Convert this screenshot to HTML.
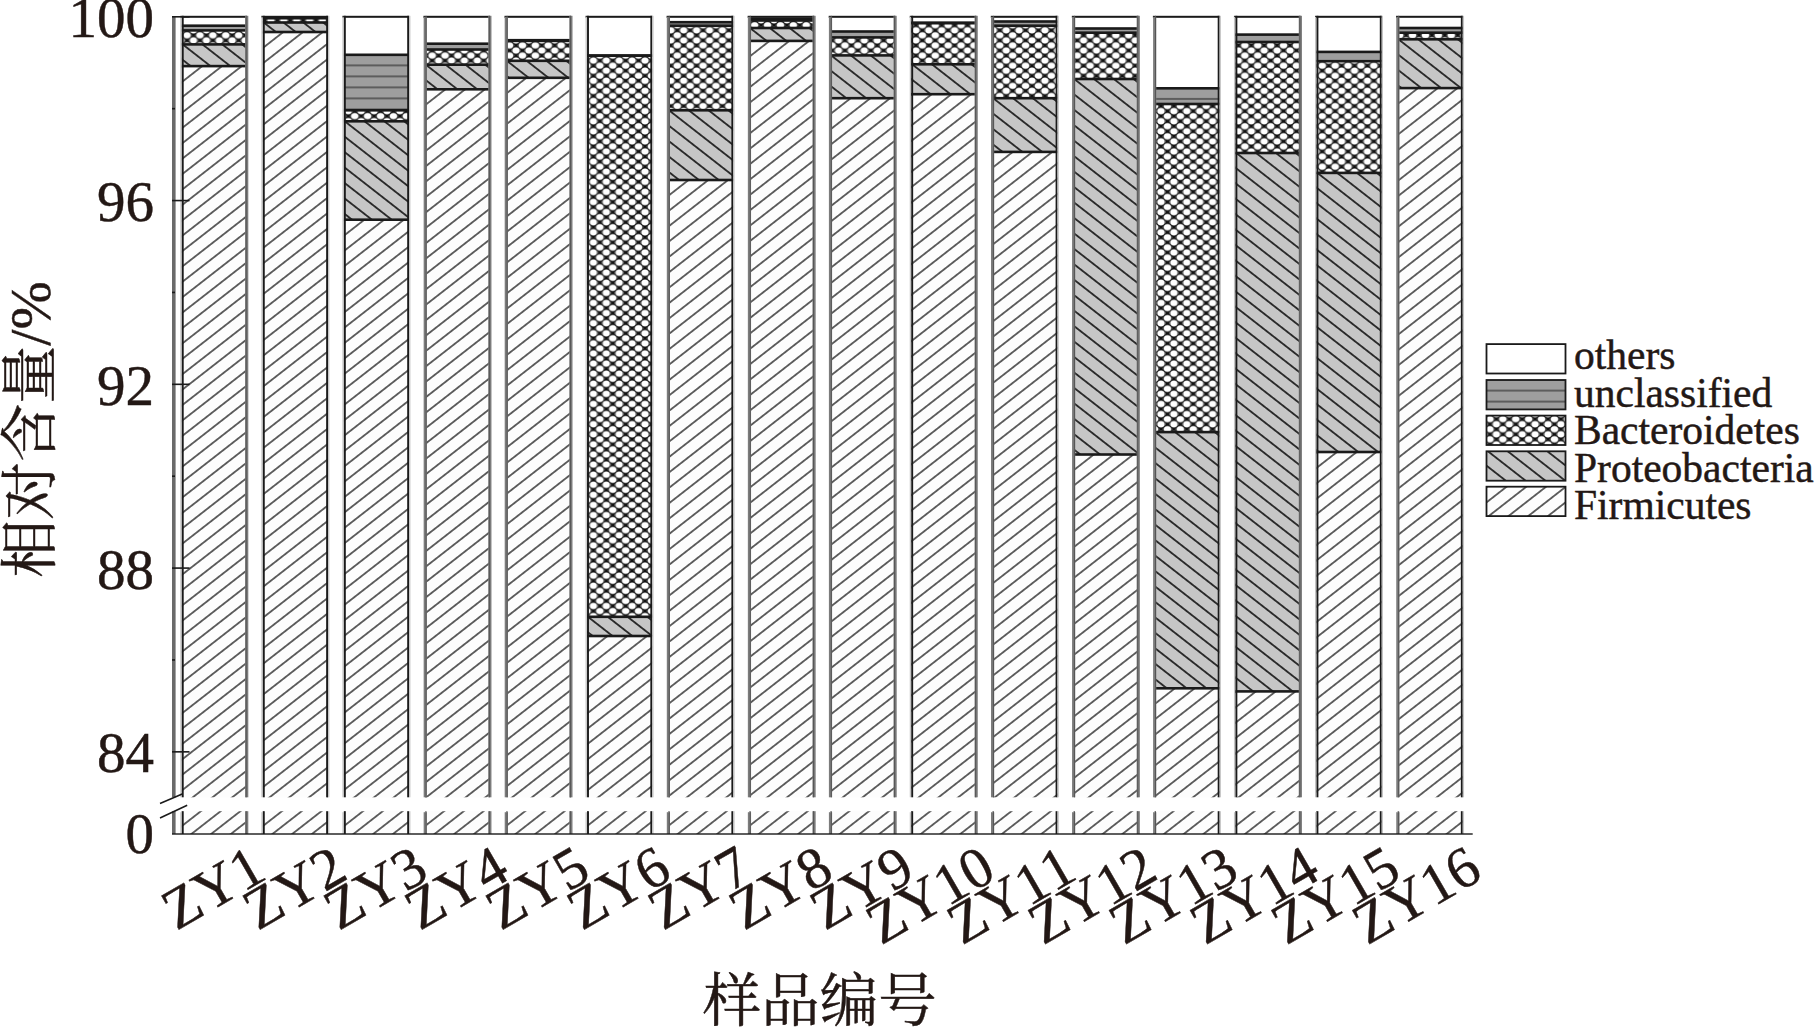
<!DOCTYPE html>
<html lang="zh"><head><meta charset="utf-8"><title>chart</title>
<style>
html,body{margin:0;padding:0;background:#fff;}
body{width:1814px;height:1027px;overflow:hidden;}
svg{display:block;}
text{font-kerning:none;font-feature-settings:"kern" 0;}
.t{font-family:"Liberation Serif","Noto Serif CJK SC",serif;fill:#231815;stroke:#231815;stroke-width:0.45px;}
</style></head><body>
<svg width="1814" height="1027" viewBox="0 0 1814 1027">
<defs>
<pattern id="bact" width="12.9" height="10.1" patternUnits="userSpaceOnUse">
<rect width="12.9" height="10.1" fill="#606060"/>
<path d="M19.35,-10.1 L-6.45,10.1 M32.25,-10.1 L6.45,10.1 M25.8,-5.05 L-12.9,25.25 M-6.45,-10.1 L19.35,10.1 M-19.35,-10.1 L6.45,10.1 M0,-5.05 L25.8,15.15 M-12.9,-5.05 L12.9,15.15" stroke="#1c1c1c" stroke-width="1.1" fill="none"/>
<g fill="#fff"><ellipse cx="0" cy="0" rx="3.5" ry="3.0"/><ellipse cx="12.9" cy="0" rx="3.5" ry="3.0"/><ellipse cx="0" cy="10.1" rx="3.5" ry="3.0"/><ellipse cx="12.9" cy="10.1" rx="3.5" ry="3.0"/><ellipse cx="6.45" cy="5.05" rx="3.5" ry="3.0"/></g>
<g fill="#111"><rect x="5.05" y="-1.4" width="2.8" height="2.8"/><rect x="5.05" y="8.7" width="2.8" height="2.8"/><rect x="-1.4" y="3.65" width="2.8" height="2.8"/><rect x="11.5" y="3.65" width="2.8" height="2.8"/></g>
</pattern>
<pattern id="u1" width="24" height="11" patternUnits="userSpaceOnUse" patternTransform="translate(183.70 25.30)"><rect width="24" height="11" fill="#9e9e9e"/><rect y="-0.9" width="24" height="1.8" fill="#555"/><rect y="10.1" width="24" height="1.8" fill="#555"/></pattern>
<pattern id="p3" width="24" height="12.182" patternUnits="userSpaceOnUse" patternTransform="translate(183.70 45.20) rotate(37.954)"><rect width="24" height="12.182" fill="#c6c6c6"/><rect y="-0.85" width="24" height="1.7" fill="#1a1a1a"/><rect y="11.332" width="24" height="1.7" fill="#1a1a1a"/></pattern>
<pattern id="f4" width="24" height="12.143" patternUnits="userSpaceOnUse" patternTransform="translate(183.70 65.20) rotate(-37.954)"><rect width="24" height="12.143" fill="#fdfdfd"/><rect y="-0.7" width="24" height="1.4" fill="#262626"/><rect y="11.443" width="24" height="1.4" fill="#262626"/></pattern>
<pattern id="f5" width="24" height="12.143" patternUnits="userSpaceOnUse" patternTransform="translate(183.70 809.20) rotate(-37.954)"><rect width="24" height="12.143" fill="#fdfdfd"/><rect y="-0.7" width="24" height="1.4" fill="#262626"/><rect y="11.443" width="24" height="1.4" fill="#262626"/></pattern>
<pattern id="u6" width="24" height="11" patternUnits="userSpaceOnUse" patternTransform="translate(264.75 16.90)"><rect width="24" height="11" fill="#9e9e9e"/><rect y="-0.9" width="24" height="1.8" fill="#555"/><rect y="10.1" width="24" height="1.8" fill="#555"/></pattern>
<pattern id="p8" width="24" height="12.182" patternUnits="userSpaceOnUse" patternTransform="translate(264.75 23.30) rotate(37.954)"><rect width="24" height="12.182" fill="#c6c6c6"/><rect y="-0.85" width="24" height="1.7" fill="#1a1a1a"/><rect y="11.332" width="24" height="1.7" fill="#1a1a1a"/></pattern>
<pattern id="f9" width="24" height="12.143" patternUnits="userSpaceOnUse" patternTransform="translate(264.75 31.10) rotate(-37.954)"><rect width="24" height="12.143" fill="#fdfdfd"/><rect y="-0.7" width="24" height="1.4" fill="#262626"/><rect y="11.443" width="24" height="1.4" fill="#262626"/></pattern>
<pattern id="f10" width="24" height="12.143" patternUnits="userSpaceOnUse" patternTransform="translate(264.75 809.20) rotate(-37.954)"><rect width="24" height="12.143" fill="#fdfdfd"/><rect y="-0.7" width="24" height="1.4" fill="#262626"/><rect y="11.443" width="24" height="1.4" fill="#262626"/></pattern>
<pattern id="u11" width="24" height="11" patternUnits="userSpaceOnUse" patternTransform="translate(345.80 54.40)"><rect width="24" height="11" fill="#9e9e9e"/><rect y="-0.9" width="24" height="1.8" fill="#555"/><rect y="10.1" width="24" height="1.8" fill="#555"/></pattern>
<pattern id="p13" width="24" height="12.182" patternUnits="userSpaceOnUse" patternTransform="translate(345.80 122.10) rotate(37.954)"><rect width="24" height="12.182" fill="#c6c6c6"/><rect y="-0.85" width="24" height="1.7" fill="#1a1a1a"/><rect y="11.332" width="24" height="1.7" fill="#1a1a1a"/></pattern>
<pattern id="f14" width="24" height="12.143" patternUnits="userSpaceOnUse" patternTransform="translate(345.80 218.80) rotate(-37.954)"><rect width="24" height="12.143" fill="#fdfdfd"/><rect y="-0.7" width="24" height="1.4" fill="#262626"/><rect y="11.443" width="24" height="1.4" fill="#262626"/></pattern>
<pattern id="f15" width="24" height="12.143" patternUnits="userSpaceOnUse" patternTransform="translate(345.80 809.20) rotate(-37.954)"><rect width="24" height="12.143" fill="#fdfdfd"/><rect y="-0.7" width="24" height="1.4" fill="#262626"/><rect y="11.443" width="24" height="1.4" fill="#262626"/></pattern>
<pattern id="u16" width="24" height="11" patternUnits="userSpaceOnUse" patternTransform="translate(426.85 43.30)"><rect width="24" height="11" fill="#9e9e9e"/><rect y="-0.9" width="24" height="1.8" fill="#555"/><rect y="10.1" width="24" height="1.8" fill="#555"/></pattern>
<pattern id="p18" width="24" height="12.182" patternUnits="userSpaceOnUse" patternTransform="translate(426.85 65.50) rotate(37.954)"><rect width="24" height="12.182" fill="#c6c6c6"/><rect y="-0.85" width="24" height="1.7" fill="#1a1a1a"/><rect y="11.332" width="24" height="1.7" fill="#1a1a1a"/></pattern>
<pattern id="f19" width="24" height="12.143" patternUnits="userSpaceOnUse" patternTransform="translate(426.85 88.40) rotate(-37.954)"><rect width="24" height="12.143" fill="#fdfdfd"/><rect y="-0.7" width="24" height="1.4" fill="#262626"/><rect y="11.443" width="24" height="1.4" fill="#262626"/></pattern>
<pattern id="f20" width="24" height="12.143" patternUnits="userSpaceOnUse" patternTransform="translate(426.85 809.20) rotate(-37.954)"><rect width="24" height="12.143" fill="#fdfdfd"/><rect y="-0.7" width="24" height="1.4" fill="#262626"/><rect y="11.443" width="24" height="1.4" fill="#262626"/></pattern>
<pattern id="u21" width="24" height="11" patternUnits="userSpaceOnUse" patternTransform="translate(507.90 39.80)"><rect width="24" height="11" fill="#9e9e9e"/><rect y="-0.9" width="24" height="1.8" fill="#555"/><rect y="10.1" width="24" height="1.8" fill="#555"/></pattern>
<pattern id="p23" width="24" height="12.182" patternUnits="userSpaceOnUse" patternTransform="translate(507.90 61.60) rotate(37.954)"><rect width="24" height="12.182" fill="#c6c6c6"/><rect y="-0.85" width="24" height="1.7" fill="#1a1a1a"/><rect y="11.332" width="24" height="1.7" fill="#1a1a1a"/></pattern>
<pattern id="f24" width="24" height="12.143" patternUnits="userSpaceOnUse" patternTransform="translate(507.90 76.90) rotate(-37.954)"><rect width="24" height="12.143" fill="#fdfdfd"/><rect y="-0.7" width="24" height="1.4" fill="#262626"/><rect y="11.443" width="24" height="1.4" fill="#262626"/></pattern>
<pattern id="f25" width="24" height="12.143" patternUnits="userSpaceOnUse" patternTransform="translate(507.90 809.20) rotate(-37.954)"><rect width="24" height="12.143" fill="#fdfdfd"/><rect y="-0.7" width="24" height="1.4" fill="#262626"/><rect y="11.443" width="24" height="1.4" fill="#262626"/></pattern>
<pattern id="p27" width="24" height="12.182" patternUnits="userSpaceOnUse" patternTransform="translate(588.95 617.60) rotate(37.954)"><rect width="24" height="12.182" fill="#c6c6c6"/><rect y="-0.85" width="24" height="1.7" fill="#1a1a1a"/><rect y="11.332" width="24" height="1.7" fill="#1a1a1a"/></pattern>
<pattern id="f28" width="24" height="12.143" patternUnits="userSpaceOnUse" patternTransform="translate(588.95 635.10) rotate(-37.954)"><rect width="24" height="12.143" fill="#fdfdfd"/><rect y="-0.7" width="24" height="1.4" fill="#262626"/><rect y="11.443" width="24" height="1.4" fill="#262626"/></pattern>
<pattern id="f29" width="24" height="12.143" patternUnits="userSpaceOnUse" patternTransform="translate(588.95 809.20) rotate(-37.954)"><rect width="24" height="12.143" fill="#fdfdfd"/><rect y="-0.7" width="24" height="1.4" fill="#262626"/><rect y="11.443" width="24" height="1.4" fill="#262626"/></pattern>
<pattern id="u30" width="24" height="11" patternUnits="userSpaceOnUse" patternTransform="translate(670.00 21.80)"><rect width="24" height="11" fill="#9e9e9e"/><rect y="-0.9" width="24" height="1.8" fill="#555"/><rect y="10.1" width="24" height="1.8" fill="#555"/></pattern>
<pattern id="p32" width="24" height="12.182" patternUnits="userSpaceOnUse" patternTransform="translate(670.00 111.10) rotate(37.954)"><rect width="24" height="12.182" fill="#c6c6c6"/><rect y="-0.85" width="24" height="1.7" fill="#1a1a1a"/><rect y="11.332" width="24" height="1.7" fill="#1a1a1a"/></pattern>
<pattern id="f33" width="24" height="12.143" patternUnits="userSpaceOnUse" patternTransform="translate(670.00 179.10) rotate(-37.954)"><rect width="24" height="12.143" fill="#fdfdfd"/><rect y="-0.7" width="24" height="1.4" fill="#262626"/><rect y="11.443" width="24" height="1.4" fill="#262626"/></pattern>
<pattern id="f34" width="24" height="12.143" patternUnits="userSpaceOnUse" patternTransform="translate(670.00 809.20) rotate(-37.954)"><rect width="24" height="12.143" fill="#fdfdfd"/><rect y="-0.7" width="24" height="1.4" fill="#262626"/><rect y="11.443" width="24" height="1.4" fill="#262626"/></pattern>
<pattern id="u35" width="24" height="11" patternUnits="userSpaceOnUse" patternTransform="translate(751.05 18.30)"><rect width="24" height="11" fill="#9e9e9e"/><rect y="-0.9" width="24" height="1.8" fill="#555"/><rect y="10.1" width="24" height="1.8" fill="#555"/></pattern>
<pattern id="p37" width="24" height="12.182" patternUnits="userSpaceOnUse" patternTransform="translate(751.05 28.80) rotate(37.954)"><rect width="24" height="12.182" fill="#c6c6c6"/><rect y="-0.85" width="24" height="1.7" fill="#1a1a1a"/><rect y="11.332" width="24" height="1.7" fill="#1a1a1a"/></pattern>
<pattern id="f38" width="24" height="12.143" patternUnits="userSpaceOnUse" patternTransform="translate(751.05 40.00) rotate(-37.954)"><rect width="24" height="12.143" fill="#fdfdfd"/><rect y="-0.7" width="24" height="1.4" fill="#262626"/><rect y="11.443" width="24" height="1.4" fill="#262626"/></pattern>
<pattern id="f39" width="24" height="12.143" patternUnits="userSpaceOnUse" patternTransform="translate(751.05 809.20) rotate(-37.954)"><rect width="24" height="12.143" fill="#fdfdfd"/><rect y="-0.7" width="24" height="1.4" fill="#262626"/><rect y="11.443" width="24" height="1.4" fill="#262626"/></pattern>
<pattern id="u40" width="24" height="11" patternUnits="userSpaceOnUse" patternTransform="translate(832.10 31.10)"><rect width="24" height="11" fill="#9e9e9e"/><rect y="-0.9" width="24" height="1.8" fill="#555"/><rect y="10.1" width="24" height="1.8" fill="#555"/></pattern>
<pattern id="p42" width="24" height="12.182" patternUnits="userSpaceOnUse" patternTransform="translate(832.10 56.20) rotate(37.954)"><rect width="24" height="12.182" fill="#c6c6c6"/><rect y="-0.85" width="24" height="1.7" fill="#1a1a1a"/><rect y="11.332" width="24" height="1.7" fill="#1a1a1a"/></pattern>
<pattern id="f43" width="24" height="12.143" patternUnits="userSpaceOnUse" patternTransform="translate(832.10 97.30) rotate(-37.954)"><rect width="24" height="12.143" fill="#fdfdfd"/><rect y="-0.7" width="24" height="1.4" fill="#262626"/><rect y="11.443" width="24" height="1.4" fill="#262626"/></pattern>
<pattern id="f44" width="24" height="12.143" patternUnits="userSpaceOnUse" patternTransform="translate(832.10 809.20) rotate(-37.954)"><rect width="24" height="12.143" fill="#fdfdfd"/><rect y="-0.7" width="24" height="1.4" fill="#262626"/><rect y="11.443" width="24" height="1.4" fill="#262626"/></pattern>
<pattern id="u45" width="24" height="11" patternUnits="userSpaceOnUse" patternTransform="translate(913.15 22.30)"><rect width="24" height="11" fill="#9e9e9e"/><rect y="-0.9" width="24" height="1.8" fill="#555"/><rect y="10.1" width="24" height="1.8" fill="#555"/></pattern>
<pattern id="p47" width="24" height="12.182" patternUnits="userSpaceOnUse" patternTransform="translate(913.15 65.10) rotate(37.954)"><rect width="24" height="12.182" fill="#c6c6c6"/><rect y="-0.85" width="24" height="1.7" fill="#1a1a1a"/><rect y="11.332" width="24" height="1.7" fill="#1a1a1a"/></pattern>
<pattern id="f48" width="24" height="12.143" patternUnits="userSpaceOnUse" patternTransform="translate(913.15 93.30) rotate(-37.954)"><rect width="24" height="12.143" fill="#fdfdfd"/><rect y="-0.7" width="24" height="1.4" fill="#262626"/><rect y="11.443" width="24" height="1.4" fill="#262626"/></pattern>
<pattern id="f49" width="24" height="12.143" patternUnits="userSpaceOnUse" patternTransform="translate(913.15 809.20) rotate(-37.954)"><rect width="24" height="12.143" fill="#fdfdfd"/><rect y="-0.7" width="24" height="1.4" fill="#262626"/><rect y="11.443" width="24" height="1.4" fill="#262626"/></pattern>
<pattern id="u50" width="24" height="11" patternUnits="userSpaceOnUse" patternTransform="translate(994.20 21.10)"><rect width="24" height="11" fill="#9e9e9e"/><rect y="-0.9" width="24" height="1.8" fill="#555"/><rect y="10.1" width="24" height="1.8" fill="#555"/></pattern>
<pattern id="p52" width="24" height="12.182" patternUnits="userSpaceOnUse" patternTransform="translate(994.20 99.00) rotate(37.954)"><rect width="24" height="12.182" fill="#c6c6c6"/><rect y="-0.85" width="24" height="1.7" fill="#1a1a1a"/><rect y="11.332" width="24" height="1.7" fill="#1a1a1a"/></pattern>
<pattern id="f53" width="24" height="12.143" patternUnits="userSpaceOnUse" patternTransform="translate(994.20 151.00) rotate(-37.954)"><rect width="24" height="12.143" fill="#fdfdfd"/><rect y="-0.7" width="24" height="1.4" fill="#262626"/><rect y="11.443" width="24" height="1.4" fill="#262626"/></pattern>
<pattern id="f54" width="24" height="12.143" patternUnits="userSpaceOnUse" patternTransform="translate(994.20 809.20) rotate(-37.954)"><rect width="24" height="12.143" fill="#fdfdfd"/><rect y="-0.7" width="24" height="1.4" fill="#262626"/><rect y="11.443" width="24" height="1.4" fill="#262626"/></pattern>
<pattern id="u55" width="24" height="11" patternUnits="userSpaceOnUse" patternTransform="translate(1075.25 28.10)"><rect width="24" height="11" fill="#9e9e9e"/><rect y="-0.9" width="24" height="1.8" fill="#555"/><rect y="10.1" width="24" height="1.8" fill="#555"/></pattern>
<pattern id="p57" width="24" height="12.182" patternUnits="userSpaceOnUse" patternTransform="translate(1075.25 79.80) rotate(37.954)"><rect width="24" height="12.182" fill="#c6c6c6"/><rect y="-0.85" width="24" height="1.7" fill="#1a1a1a"/><rect y="11.332" width="24" height="1.7" fill="#1a1a1a"/></pattern>
<pattern id="f58" width="24" height="12.143" patternUnits="userSpaceOnUse" patternTransform="translate(1075.25 453.60) rotate(-37.954)"><rect width="24" height="12.143" fill="#fdfdfd"/><rect y="-0.7" width="24" height="1.4" fill="#262626"/><rect y="11.443" width="24" height="1.4" fill="#262626"/></pattern>
<pattern id="f59" width="24" height="12.143" patternUnits="userSpaceOnUse" patternTransform="translate(1075.25 809.20) rotate(-37.954)"><rect width="24" height="12.143" fill="#fdfdfd"/><rect y="-0.7" width="24" height="1.4" fill="#262626"/><rect y="11.443" width="24" height="1.4" fill="#262626"/></pattern>
<pattern id="u60" width="24" height="11" patternUnits="userSpaceOnUse" patternTransform="translate(1156.30 87.90)"><rect width="24" height="11" fill="#9e9e9e"/><rect y="-0.9" width="24" height="1.8" fill="#555"/><rect y="10.1" width="24" height="1.8" fill="#555"/></pattern>
<pattern id="p62" width="24" height="12.182" patternUnits="userSpaceOnUse" patternTransform="translate(1156.30 432.90) rotate(37.954)"><rect width="24" height="12.182" fill="#c6c6c6"/><rect y="-0.85" width="24" height="1.7" fill="#1a1a1a"/><rect y="11.332" width="24" height="1.7" fill="#1a1a1a"/></pattern>
<pattern id="f63" width="24" height="12.143" patternUnits="userSpaceOnUse" patternTransform="translate(1156.30 687.40) rotate(-37.954)"><rect width="24" height="12.143" fill="#fdfdfd"/><rect y="-0.7" width="24" height="1.4" fill="#262626"/><rect y="11.443" width="24" height="1.4" fill="#262626"/></pattern>
<pattern id="f64" width="24" height="12.143" patternUnits="userSpaceOnUse" patternTransform="translate(1156.30 809.20) rotate(-37.954)"><rect width="24" height="12.143" fill="#fdfdfd"/><rect y="-0.7" width="24" height="1.4" fill="#262626"/><rect y="11.443" width="24" height="1.4" fill="#262626"/></pattern>
<pattern id="u65" width="24" height="11" patternUnits="userSpaceOnUse" patternTransform="translate(1237.35 34.20)"><rect width="24" height="11" fill="#9e9e9e"/><rect y="-0.9" width="24" height="1.8" fill="#555"/><rect y="10.1" width="24" height="1.8" fill="#555"/></pattern>
<pattern id="p67" width="24" height="12.182" patternUnits="userSpaceOnUse" patternTransform="translate(1237.35 153.80) rotate(37.954)"><rect width="24" height="12.182" fill="#c6c6c6"/><rect y="-0.85" width="24" height="1.7" fill="#1a1a1a"/><rect y="11.332" width="24" height="1.7" fill="#1a1a1a"/></pattern>
<pattern id="f68" width="24" height="12.143" patternUnits="userSpaceOnUse" patternTransform="translate(1237.35 690.50) rotate(-37.954)"><rect width="24" height="12.143" fill="#fdfdfd"/><rect y="-0.7" width="24" height="1.4" fill="#262626"/><rect y="11.443" width="24" height="1.4" fill="#262626"/></pattern>
<pattern id="f69" width="24" height="12.143" patternUnits="userSpaceOnUse" patternTransform="translate(1237.35 809.20) rotate(-37.954)"><rect width="24" height="12.143" fill="#fdfdfd"/><rect y="-0.7" width="24" height="1.4" fill="#262626"/><rect y="11.443" width="24" height="1.4" fill="#262626"/></pattern>
<pattern id="u70" width="24" height="11" patternUnits="userSpaceOnUse" patternTransform="translate(1318.40 51.50)"><rect width="24" height="11" fill="#9e9e9e"/><rect y="-0.9" width="24" height="1.8" fill="#555"/><rect y="10.1" width="24" height="1.8" fill="#555"/></pattern>
<pattern id="p72" width="24" height="12.182" patternUnits="userSpaceOnUse" patternTransform="translate(1318.40 173.70) rotate(37.954)"><rect width="24" height="12.182" fill="#c6c6c6"/><rect y="-0.85" width="24" height="1.7" fill="#1a1a1a"/><rect y="11.332" width="24" height="1.7" fill="#1a1a1a"/></pattern>
<pattern id="f73" width="24" height="12.143" patternUnits="userSpaceOnUse" patternTransform="translate(1318.40 451.10) rotate(-37.954)"><rect width="24" height="12.143" fill="#fdfdfd"/><rect y="-0.7" width="24" height="1.4" fill="#262626"/><rect y="11.443" width="24" height="1.4" fill="#262626"/></pattern>
<pattern id="f74" width="24" height="12.143" patternUnits="userSpaceOnUse" patternTransform="translate(1318.40 809.20) rotate(-37.954)"><rect width="24" height="12.143" fill="#fdfdfd"/><rect y="-0.7" width="24" height="1.4" fill="#262626"/><rect y="11.443" width="24" height="1.4" fill="#262626"/></pattern>
<pattern id="u75" width="24" height="11" patternUnits="userSpaceOnUse" patternTransform="translate(1399.45 27.60)"><rect width="24" height="11" fill="#9e9e9e"/><rect y="-0.9" width="24" height="1.8" fill="#555"/><rect y="10.1" width="24" height="1.8" fill="#555"/></pattern>
<pattern id="p77" width="24" height="12.182" patternUnits="userSpaceOnUse" patternTransform="translate(1399.45 40.10) rotate(37.954)"><rect width="24" height="12.182" fill="#c6c6c6"/><rect y="-0.85" width="24" height="1.7" fill="#1a1a1a"/><rect y="11.332" width="24" height="1.7" fill="#1a1a1a"/></pattern>
<pattern id="f78" width="24" height="12.143" patternUnits="userSpaceOnUse" patternTransform="translate(1399.45 87.20) rotate(-37.954)"><rect width="24" height="12.143" fill="#fdfdfd"/><rect y="-0.7" width="24" height="1.4" fill="#262626"/><rect y="11.443" width="24" height="1.4" fill="#262626"/></pattern>
<pattern id="f79" width="24" height="12.143" patternUnits="userSpaceOnUse" patternTransform="translate(1399.45 809.20) rotate(-37.954)"><rect width="24" height="12.143" fill="#fdfdfd"/><rect y="-0.7" width="24" height="1.4" fill="#262626"/><rect y="11.443" width="24" height="1.4" fill="#262626"/></pattern>
<pattern id="u80" width="24" height="11" patternUnits="userSpaceOnUse" patternTransform="translate(1487.40 379.60)"><rect width="24" height="11" fill="#9e9e9e"/><rect y="-0.9" width="24" height="1.8" fill="#555"/><rect y="10.1" width="24" height="1.8" fill="#555"/></pattern>
<pattern id="p82" width="24" height="12.182" patternUnits="userSpaceOnUse" patternTransform="translate(1487.40 450.90) rotate(37.954)"><rect width="24" height="12.182" fill="#c6c6c6"/><rect y="-0.85" width="24" height="1.7" fill="#1a1a1a"/><rect y="11.332" width="24" height="1.7" fill="#1a1a1a"/></pattern>
<pattern id="f83" width="24" height="12.143" patternUnits="userSpaceOnUse" patternTransform="translate(1487.40 486.30) rotate(-37.954)"><rect width="24" height="12.143" fill="#fdfdfd"/><rect y="-0.7" width="24" height="1.4" fill="#262626"/><rect y="11.443" width="24" height="1.4" fill="#262626"/></pattern>
</defs>
<g><rect x="181.80" y="16.80" width="65.20" height="8.90" fill="#fff"/><rect x="181.80" y="25.70" width="65.20" height="4.70" fill="url(#u1)"/><rect x="181.80" y="30.40" width="65.20" height="14.00" fill="url(#bact)"/><rect x="181.80" y="44.40" width="65.20" height="21.70" fill="url(#p3)"/><rect x="181.80" y="66.10" width="65.20" height="731.20" fill="url(#f4)"/><rect x="181.80" y="811.20" width="65.20" height="22.80" fill="url(#f5)"/><rect x="181.80" y="24.40" width="65.20" height="2.6" fill="#1a1a1a"/><rect x="181.80" y="29.10" width="65.20" height="2.6" fill="#1a1a1a"/><rect x="181.80" y="43.10" width="65.20" height="2.6" fill="#1a1a1a"/><rect x="181.80" y="64.80" width="65.20" height="2.6" fill="#1a1a1a"/><rect x="180.30" y="15.80" width="66.70" height="2.0" fill="#1a1a1a"/><rect x="180.30" y="16.80" width="1.3" height="780.50" fill="#c4c4c4"/><rect x="181.80" y="15.80" width="1.9" height="781.50" fill="#1a1a1a"/><rect x="245.10" y="15.80" width="3.2" height="781.50" fill="#7c7c7c"/><rect x="245.70" y="15.80" width="1.0" height="781.50" fill="#555"/><rect x="180.30" y="812.20" width="1.3" height="21.80" fill="#c4c4c4"/><rect x="181.80" y="811.20" width="1.9" height="22.80" fill="#1a1a1a"/><rect x="245.10" y="811.20" width="3.2" height="22.80" fill="#7c7c7c"/><rect x="245.70" y="811.20" width="1.0" height="22.80" fill="#555"/></g>
<g><rect x="262.85" y="16.80" width="65.20" height="0.50" fill="#fff"/><rect x="262.85" y="17.30" width="65.20" height="0.90" fill="url(#u6)"/><rect x="262.85" y="18.20" width="65.20" height="4.30" fill="url(#bact)"/><rect x="262.85" y="22.50" width="65.20" height="9.50" fill="url(#p8)"/><rect x="262.85" y="32.00" width="65.20" height="765.30" fill="url(#f9)"/><rect x="262.85" y="811.20" width="65.20" height="22.80" fill="url(#f10)"/><rect x="262.85" y="16.00" width="65.20" height="2.6" fill="#1a1a1a"/><rect x="262.85" y="16.90" width="65.20" height="2.6" fill="#1a1a1a"/><rect x="262.85" y="21.20" width="65.20" height="2.6" fill="#1a1a1a"/><rect x="262.85" y="30.70" width="65.20" height="2.6" fill="#1a1a1a"/><rect x="261.35" y="15.80" width="66.70" height="2.0" fill="#1a1a1a"/><rect x="261.35" y="16.80" width="1.3" height="780.50" fill="#c4c4c4"/><rect x="262.85" y="15.80" width="1.9" height="781.50" fill="#1a1a1a"/><rect x="326.15" y="15.80" width="1.9" height="781.50" fill="#1a1a1a"/><rect x="328.05" y="15.80" width="1.3" height="781.50" fill="#c4c4c4"/><rect x="261.35" y="812.20" width="1.3" height="21.80" fill="#c4c4c4"/><rect x="262.85" y="811.20" width="1.9" height="22.80" fill="#1a1a1a"/><rect x="326.15" y="811.20" width="1.9" height="22.80" fill="#1a1a1a"/><rect x="328.05" y="811.20" width="1.3" height="22.80" fill="#c4c4c4"/></g>
<g><rect x="343.90" y="16.80" width="65.20" height="38.00" fill="#fff"/><rect x="343.90" y="54.80" width="65.20" height="55.50" fill="url(#u11)"/><rect x="343.90" y="110.30" width="65.20" height="11.00" fill="url(#bact)"/><rect x="343.90" y="121.30" width="65.20" height="98.40" fill="url(#p13)"/><rect x="343.90" y="219.70" width="65.20" height="577.60" fill="url(#f14)"/><rect x="343.90" y="811.20" width="65.20" height="22.80" fill="url(#f15)"/><rect x="343.90" y="53.50" width="65.20" height="2.6" fill="#1a1a1a"/><rect x="343.90" y="109.00" width="65.20" height="2.6" fill="#1a1a1a"/><rect x="343.90" y="120.00" width="65.20" height="2.6" fill="#1a1a1a"/><rect x="343.90" y="218.40" width="65.20" height="2.6" fill="#1a1a1a"/><rect x="342.40" y="15.80" width="66.70" height="2.0" fill="#1a1a1a"/><rect x="342.40" y="16.80" width="1.3" height="780.50" fill="#c4c4c4"/><rect x="343.90" y="15.80" width="1.9" height="781.50" fill="#1a1a1a"/><rect x="407.20" y="15.80" width="1.9" height="781.50" fill="#1a1a1a"/><rect x="409.10" y="15.80" width="1.3" height="781.50" fill="#c4c4c4"/><rect x="342.40" y="812.20" width="1.3" height="21.80" fill="#c4c4c4"/><rect x="343.90" y="811.20" width="1.9" height="22.80" fill="#1a1a1a"/><rect x="407.20" y="811.20" width="1.9" height="22.80" fill="#1a1a1a"/><rect x="409.10" y="811.20" width="1.3" height="22.80" fill="#c4c4c4"/></g>
<g><rect x="424.95" y="16.80" width="65.20" height="26.90" fill="#fff"/><rect x="424.95" y="43.70" width="65.20" height="5.80" fill="url(#u16)"/><rect x="424.95" y="49.50" width="65.20" height="15.20" fill="url(#bact)"/><rect x="424.95" y="64.70" width="65.20" height="24.60" fill="url(#p18)"/><rect x="424.95" y="89.30" width="65.20" height="708.00" fill="url(#f19)"/><rect x="424.95" y="811.20" width="65.20" height="22.80" fill="url(#f20)"/><rect x="424.95" y="42.40" width="65.20" height="2.6" fill="#1a1a1a"/><rect x="424.95" y="48.20" width="65.20" height="2.6" fill="#1a1a1a"/><rect x="424.95" y="63.40" width="65.20" height="2.6" fill="#1a1a1a"/><rect x="424.95" y="88.00" width="65.20" height="2.6" fill="#1a1a1a"/><rect x="423.45" y="15.80" width="66.70" height="2.0" fill="#1a1a1a"/><rect x="423.65" y="16.80" width="3.2" height="780.50" fill="#7c7c7c"/><rect x="425.55" y="15.80" width="1.0" height="781.50" fill="#555"/><rect x="488.25" y="15.80" width="3.2" height="781.50" fill="#7c7c7c"/><rect x="488.85" y="15.80" width="1.0" height="781.50" fill="#555"/><rect x="423.65" y="812.20" width="3.2" height="21.80" fill="#7c7c7c"/><rect x="425.55" y="811.20" width="1.0" height="22.80" fill="#555"/><rect x="488.25" y="811.20" width="3.2" height="22.80" fill="#7c7c7c"/><rect x="488.85" y="811.20" width="1.0" height="22.80" fill="#555"/></g>
<g><rect x="506.00" y="16.80" width="65.20" height="23.40" fill="#fff"/><rect x="506.00" y="40.20" width="65.20" height="0.70" fill="url(#u21)"/><rect x="506.00" y="40.90" width="65.20" height="19.90" fill="url(#bact)"/><rect x="506.00" y="60.80" width="65.20" height="17.00" fill="url(#p23)"/><rect x="506.00" y="77.80" width="65.20" height="719.50" fill="url(#f24)"/><rect x="506.00" y="811.20" width="65.20" height="22.80" fill="url(#f25)"/><rect x="506.00" y="38.90" width="65.20" height="2.6" fill="#1a1a1a"/><rect x="506.00" y="39.60" width="65.20" height="2.6" fill="#1a1a1a"/><rect x="506.00" y="59.50" width="65.20" height="2.6" fill="#1a1a1a"/><rect x="506.00" y="76.50" width="65.20" height="2.6" fill="#1a1a1a"/><rect x="504.50" y="15.80" width="66.70" height="2.0" fill="#1a1a1a"/><rect x="504.70" y="16.80" width="3.2" height="780.50" fill="#7c7c7c"/><rect x="506.60" y="15.80" width="1.0" height="781.50" fill="#555"/><rect x="569.30" y="15.80" width="3.2" height="781.50" fill="#7c7c7c"/><rect x="569.90" y="15.80" width="1.0" height="781.50" fill="#555"/><rect x="504.70" y="812.20" width="3.2" height="21.80" fill="#7c7c7c"/><rect x="506.60" y="811.20" width="1.0" height="22.80" fill="#555"/><rect x="569.30" y="811.20" width="3.2" height="22.80" fill="#7c7c7c"/><rect x="569.90" y="811.20" width="1.0" height="22.80" fill="#555"/></g>
<g><rect x="587.05" y="16.80" width="65.20" height="38.80" fill="#fff"/><rect x="587.05" y="55.60" width="65.20" height="561.20" fill="url(#bact)"/><rect x="587.05" y="616.80" width="65.20" height="19.20" fill="url(#p27)"/><rect x="587.05" y="636.00" width="65.20" height="161.30" fill="url(#f28)"/><rect x="587.05" y="811.20" width="65.20" height="22.80" fill="url(#f29)"/><rect x="587.05" y="54.30" width="65.20" height="2.6" fill="#1a1a1a"/><rect x="587.05" y="54.30" width="65.20" height="2.6" fill="#1a1a1a"/><rect x="587.05" y="615.50" width="65.20" height="2.6" fill="#1a1a1a"/><rect x="587.05" y="634.70" width="65.20" height="2.6" fill="#1a1a1a"/><rect x="585.55" y="15.80" width="66.70" height="2.0" fill="#1a1a1a"/><rect x="585.55" y="16.80" width="1.3" height="780.50" fill="#c4c4c4"/><rect x="587.05" y="15.80" width="1.9" height="781.50" fill="#1a1a1a"/><rect x="650.35" y="15.80" width="1.9" height="781.50" fill="#1a1a1a"/><rect x="652.25" y="15.80" width="1.3" height="781.50" fill="#c4c4c4"/><rect x="585.55" y="812.20" width="1.3" height="21.80" fill="#c4c4c4"/><rect x="587.05" y="811.20" width="1.9" height="22.80" fill="#1a1a1a"/><rect x="650.35" y="811.20" width="1.9" height="22.80" fill="#1a1a1a"/><rect x="652.25" y="811.20" width="1.3" height="22.80" fill="#c4c4c4"/></g>
<g><rect x="668.10" y="16.80" width="65.20" height="5.40" fill="#fff"/><rect x="668.10" y="22.20" width="65.20" height="3.50" fill="url(#u30)"/><rect x="668.10" y="25.70" width="65.20" height="84.60" fill="url(#bact)"/><rect x="668.10" y="110.30" width="65.20" height="69.70" fill="url(#p32)"/><rect x="668.10" y="180.00" width="65.20" height="617.30" fill="url(#f33)"/><rect x="668.10" y="811.20" width="65.20" height="22.80" fill="url(#f34)"/><rect x="668.10" y="20.90" width="65.20" height="2.6" fill="#1a1a1a"/><rect x="668.10" y="24.40" width="65.20" height="2.6" fill="#1a1a1a"/><rect x="668.10" y="109.00" width="65.20" height="2.6" fill="#1a1a1a"/><rect x="668.10" y="178.70" width="65.20" height="2.6" fill="#1a1a1a"/><rect x="666.60" y="15.80" width="66.70" height="2.0" fill="#1a1a1a"/><rect x="666.80" y="16.80" width="3.2" height="780.50" fill="#7c7c7c"/><rect x="668.70" y="15.80" width="1.0" height="781.50" fill="#555"/><rect x="731.40" y="15.80" width="1.9" height="781.50" fill="#1a1a1a"/><rect x="733.30" y="15.80" width="1.3" height="781.50" fill="#c4c4c4"/><rect x="666.80" y="812.20" width="3.2" height="21.80" fill="#7c7c7c"/><rect x="668.70" y="811.20" width="1.0" height="22.80" fill="#555"/><rect x="731.40" y="811.20" width="1.9" height="22.80" fill="#1a1a1a"/><rect x="733.30" y="811.20" width="1.3" height="22.80" fill="#c4c4c4"/></g>
<g><rect x="749.15" y="16.80" width="65.20" height="1.90" fill="#fff"/><rect x="749.15" y="18.70" width="65.20" height="1.80" fill="url(#u35)"/><rect x="749.15" y="20.50" width="65.20" height="7.50" fill="url(#bact)"/><rect x="749.15" y="28.00" width="65.20" height="12.90" fill="url(#p37)"/><rect x="749.15" y="40.90" width="65.20" height="756.40" fill="url(#f38)"/><rect x="749.15" y="811.20" width="65.20" height="22.80" fill="url(#f39)"/><rect x="749.15" y="17.40" width="65.20" height="2.6" fill="#1a1a1a"/><rect x="749.15" y="19.20" width="65.20" height="2.6" fill="#1a1a1a"/><rect x="749.15" y="26.70" width="65.20" height="2.6" fill="#1a1a1a"/><rect x="749.15" y="39.60" width="65.20" height="2.6" fill="#1a1a1a"/><rect x="747.65" y="15.80" width="66.70" height="2.0" fill="#1a1a1a"/><rect x="747.85" y="16.80" width="3.2" height="780.50" fill="#7c7c7c"/><rect x="749.75" y="15.80" width="1.0" height="781.50" fill="#555"/><rect x="812.45" y="15.80" width="3.2" height="781.50" fill="#7c7c7c"/><rect x="813.05" y="15.80" width="1.0" height="781.50" fill="#555"/><rect x="747.85" y="812.20" width="3.2" height="21.80" fill="#7c7c7c"/><rect x="749.75" y="811.20" width="1.0" height="22.80" fill="#555"/><rect x="812.45" y="811.20" width="3.2" height="22.80" fill="#7c7c7c"/><rect x="813.05" y="811.20" width="1.0" height="22.80" fill="#555"/></g>
<g><rect x="830.20" y="16.80" width="65.20" height="14.70" fill="#fff"/><rect x="830.20" y="31.50" width="65.20" height="5.90" fill="url(#u40)"/><rect x="830.20" y="37.40" width="65.20" height="18.00" fill="url(#bact)"/><rect x="830.20" y="55.40" width="65.20" height="42.80" fill="url(#p42)"/><rect x="830.20" y="98.20" width="65.20" height="699.10" fill="url(#f43)"/><rect x="830.20" y="811.20" width="65.20" height="22.80" fill="url(#f44)"/><rect x="830.20" y="30.20" width="65.20" height="2.6" fill="#1a1a1a"/><rect x="830.20" y="36.10" width="65.20" height="2.6" fill="#1a1a1a"/><rect x="830.20" y="54.10" width="65.20" height="2.6" fill="#1a1a1a"/><rect x="830.20" y="96.90" width="65.20" height="2.6" fill="#1a1a1a"/><rect x="828.70" y="15.80" width="66.70" height="2.0" fill="#1a1a1a"/><rect x="828.90" y="16.80" width="3.2" height="780.50" fill="#7c7c7c"/><rect x="830.80" y="15.80" width="1.0" height="781.50" fill="#555"/><rect x="893.50" y="15.80" width="3.2" height="781.50" fill="#7c7c7c"/><rect x="894.10" y="15.80" width="1.0" height="781.50" fill="#555"/><rect x="828.90" y="812.20" width="3.2" height="21.80" fill="#7c7c7c"/><rect x="830.80" y="811.20" width="1.0" height="22.80" fill="#555"/><rect x="893.50" y="811.20" width="3.2" height="22.80" fill="#7c7c7c"/><rect x="894.10" y="811.20" width="1.0" height="22.80" fill="#555"/></g>
<g><rect x="911.25" y="16.80" width="65.20" height="5.90" fill="#fff"/><rect x="911.25" y="22.70" width="65.20" height="0.50" fill="url(#u45)"/><rect x="911.25" y="23.20" width="65.20" height="41.10" fill="url(#bact)"/><rect x="911.25" y="64.30" width="65.20" height="29.90" fill="url(#p47)"/><rect x="911.25" y="94.20" width="65.20" height="703.10" fill="url(#f48)"/><rect x="911.25" y="811.20" width="65.20" height="22.80" fill="url(#f49)"/><rect x="911.25" y="21.40" width="65.20" height="2.6" fill="#1a1a1a"/><rect x="911.25" y="21.90" width="65.20" height="2.6" fill="#1a1a1a"/><rect x="911.25" y="63.00" width="65.20" height="2.6" fill="#1a1a1a"/><rect x="911.25" y="92.90" width="65.20" height="2.6" fill="#1a1a1a"/><rect x="909.75" y="15.80" width="66.70" height="2.0" fill="#1a1a1a"/><rect x="909.75" y="16.80" width="1.3" height="780.50" fill="#c4c4c4"/><rect x="911.25" y="15.80" width="1.9" height="781.50" fill="#1a1a1a"/><rect x="974.55" y="15.80" width="3.2" height="781.50" fill="#7c7c7c"/><rect x="975.15" y="15.80" width="1.0" height="781.50" fill="#555"/><rect x="909.75" y="812.20" width="1.3" height="21.80" fill="#c4c4c4"/><rect x="911.25" y="811.20" width="1.9" height="22.80" fill="#1a1a1a"/><rect x="974.55" y="811.20" width="3.2" height="22.80" fill="#7c7c7c"/><rect x="975.15" y="811.20" width="1.0" height="22.80" fill="#555"/></g>
<g><rect x="992.30" y="16.80" width="65.20" height="4.70" fill="#fff"/><rect x="992.30" y="21.50" width="65.20" height="4.20" fill="url(#u50)"/><rect x="992.30" y="25.70" width="65.20" height="72.50" fill="url(#bact)"/><rect x="992.30" y="98.20" width="65.20" height="53.70" fill="url(#p52)"/><rect x="992.30" y="151.90" width="65.20" height="645.40" fill="url(#f53)"/><rect x="992.30" y="811.20" width="65.20" height="22.80" fill="url(#f54)"/><rect x="992.30" y="20.20" width="65.20" height="2.6" fill="#1a1a1a"/><rect x="992.30" y="24.40" width="65.20" height="2.6" fill="#1a1a1a"/><rect x="992.30" y="96.90" width="65.20" height="2.6" fill="#1a1a1a"/><rect x="992.30" y="150.60" width="65.20" height="2.6" fill="#1a1a1a"/><rect x="990.80" y="15.80" width="66.70" height="2.0" fill="#1a1a1a"/><rect x="991.00" y="16.80" width="3.2" height="780.50" fill="#7c7c7c"/><rect x="992.90" y="15.80" width="1.0" height="781.50" fill="#555"/><rect x="1055.60" y="15.80" width="1.9" height="781.50" fill="#1a1a1a"/><rect x="1057.50" y="15.80" width="1.3" height="781.50" fill="#c4c4c4"/><rect x="991.00" y="812.20" width="3.2" height="21.80" fill="#7c7c7c"/><rect x="992.90" y="811.20" width="1.0" height="22.80" fill="#555"/><rect x="1055.60" y="811.20" width="1.9" height="22.80" fill="#1a1a1a"/><rect x="1057.50" y="811.20" width="1.3" height="22.80" fill="#c4c4c4"/></g>
<g><rect x="1073.35" y="16.80" width="65.20" height="11.70" fill="#fff"/><rect x="1073.35" y="28.50" width="65.20" height="4.20" fill="url(#u55)"/><rect x="1073.35" y="32.70" width="65.20" height="46.30" fill="url(#bact)"/><rect x="1073.35" y="79.00" width="65.20" height="375.50" fill="url(#p57)"/><rect x="1073.35" y="454.50" width="65.20" height="342.80" fill="url(#f58)"/><rect x="1073.35" y="811.20" width="65.20" height="22.80" fill="url(#f59)"/><rect x="1073.35" y="27.20" width="65.20" height="2.6" fill="#1a1a1a"/><rect x="1073.35" y="31.40" width="65.20" height="2.6" fill="#1a1a1a"/><rect x="1073.35" y="77.70" width="65.20" height="2.6" fill="#1a1a1a"/><rect x="1073.35" y="453.20" width="65.20" height="2.6" fill="#1a1a1a"/><rect x="1071.85" y="15.80" width="66.70" height="2.0" fill="#1a1a1a"/><rect x="1072.05" y="16.80" width="3.2" height="780.50" fill="#7c7c7c"/><rect x="1073.95" y="15.80" width="1.0" height="781.50" fill="#555"/><rect x="1136.65" y="15.80" width="3.2" height="781.50" fill="#7c7c7c"/><rect x="1137.25" y="15.80" width="1.0" height="781.50" fill="#555"/><rect x="1072.05" y="812.20" width="3.2" height="21.80" fill="#7c7c7c"/><rect x="1073.95" y="811.20" width="1.0" height="22.80" fill="#555"/><rect x="1136.65" y="811.20" width="3.2" height="22.80" fill="#7c7c7c"/><rect x="1137.25" y="811.20" width="1.0" height="22.80" fill="#555"/></g>
<g><rect x="1154.40" y="16.80" width="65.20" height="71.50" fill="#fff"/><rect x="1154.40" y="88.30" width="65.20" height="15.70" fill="url(#u60)"/><rect x="1154.40" y="104.00" width="65.20" height="328.10" fill="url(#bact)"/><rect x="1154.40" y="432.10" width="65.20" height="256.20" fill="url(#p62)"/><rect x="1154.40" y="688.30" width="65.20" height="109.00" fill="url(#f63)"/><rect x="1154.40" y="811.20" width="65.20" height="22.80" fill="url(#f64)"/><rect x="1154.40" y="87.00" width="65.20" height="2.6" fill="#1a1a1a"/><rect x="1154.40" y="102.70" width="65.20" height="2.6" fill="#1a1a1a"/><rect x="1154.40" y="430.80" width="65.20" height="2.6" fill="#1a1a1a"/><rect x="1154.40" y="687.00" width="65.20" height="2.6" fill="#1a1a1a"/><rect x="1152.90" y="15.80" width="66.70" height="2.0" fill="#1a1a1a"/><rect x="1153.10" y="16.80" width="3.2" height="780.50" fill="#7c7c7c"/><rect x="1155.00" y="15.80" width="1.0" height="781.50" fill="#555"/><rect x="1217.70" y="15.80" width="1.9" height="781.50" fill="#1a1a1a"/><rect x="1219.60" y="15.80" width="1.3" height="781.50" fill="#c4c4c4"/><rect x="1153.10" y="812.20" width="3.2" height="21.80" fill="#7c7c7c"/><rect x="1155.00" y="811.20" width="1.0" height="22.80" fill="#555"/><rect x="1217.70" y="811.20" width="1.9" height="22.80" fill="#1a1a1a"/><rect x="1219.60" y="811.20" width="1.3" height="22.80" fill="#c4c4c4"/></g>
<g><rect x="1235.45" y="16.80" width="65.20" height="17.80" fill="#fff"/><rect x="1235.45" y="34.60" width="65.20" height="7.40" fill="url(#u65)"/><rect x="1235.45" y="42.00" width="65.20" height="111.00" fill="url(#bact)"/><rect x="1235.45" y="153.00" width="65.20" height="538.40" fill="url(#p67)"/><rect x="1235.45" y="691.40" width="65.20" height="105.90" fill="url(#f68)"/><rect x="1235.45" y="811.20" width="65.20" height="22.80" fill="url(#f69)"/><rect x="1235.45" y="33.30" width="65.20" height="2.6" fill="#1a1a1a"/><rect x="1235.45" y="40.70" width="65.20" height="2.6" fill="#1a1a1a"/><rect x="1235.45" y="151.70" width="65.20" height="2.6" fill="#1a1a1a"/><rect x="1235.45" y="690.10" width="65.20" height="2.6" fill="#1a1a1a"/><rect x="1233.95" y="15.80" width="66.70" height="2.0" fill="#1a1a1a"/><rect x="1233.95" y="16.80" width="1.3" height="780.50" fill="#c4c4c4"/><rect x="1235.45" y="15.80" width="1.9" height="781.50" fill="#1a1a1a"/><rect x="1298.75" y="15.80" width="3.2" height="781.50" fill="#7c7c7c"/><rect x="1299.35" y="15.80" width="1.0" height="781.50" fill="#555"/><rect x="1233.95" y="812.20" width="1.3" height="21.80" fill="#c4c4c4"/><rect x="1235.45" y="811.20" width="1.9" height="22.80" fill="#1a1a1a"/><rect x="1298.75" y="811.20" width="3.2" height="22.80" fill="#7c7c7c"/><rect x="1299.35" y="811.20" width="1.0" height="22.80" fill="#555"/></g>
<g><rect x="1316.50" y="16.80" width="65.20" height="35.10" fill="#fff"/><rect x="1316.50" y="51.90" width="65.20" height="9.30" fill="url(#u70)"/><rect x="1316.50" y="61.20" width="65.20" height="111.70" fill="url(#bact)"/><rect x="1316.50" y="172.90" width="65.20" height="279.10" fill="url(#p72)"/><rect x="1316.50" y="452.00" width="65.20" height="345.30" fill="url(#f73)"/><rect x="1316.50" y="811.20" width="65.20" height="22.80" fill="url(#f74)"/><rect x="1316.50" y="50.60" width="65.20" height="2.6" fill="#1a1a1a"/><rect x="1316.50" y="59.90" width="65.20" height="2.6" fill="#1a1a1a"/><rect x="1316.50" y="171.60" width="65.20" height="2.6" fill="#1a1a1a"/><rect x="1316.50" y="450.70" width="65.20" height="2.6" fill="#1a1a1a"/><rect x="1315.00" y="15.80" width="66.70" height="2.0" fill="#1a1a1a"/><rect x="1315.00" y="16.80" width="1.3" height="780.50" fill="#c4c4c4"/><rect x="1316.50" y="15.80" width="1.9" height="781.50" fill="#1a1a1a"/><rect x="1379.80" y="15.80" width="1.9" height="781.50" fill="#1a1a1a"/><rect x="1381.70" y="15.80" width="1.3" height="781.50" fill="#c4c4c4"/><rect x="1315.00" y="812.20" width="1.3" height="21.80" fill="#c4c4c4"/><rect x="1316.50" y="811.20" width="1.9" height="22.80" fill="#1a1a1a"/><rect x="1379.80" y="811.20" width="1.9" height="22.80" fill="#1a1a1a"/><rect x="1381.70" y="811.20" width="1.3" height="22.80" fill="#c4c4c4"/></g>
<g><rect x="1397.55" y="16.80" width="65.20" height="11.20" fill="#fff"/><rect x="1397.55" y="28.00" width="65.20" height="4.70" fill="url(#u75)"/><rect x="1397.55" y="32.70" width="65.20" height="6.60" fill="url(#bact)"/><rect x="1397.55" y="39.30" width="65.20" height="48.80" fill="url(#p77)"/><rect x="1397.55" y="88.10" width="65.20" height="709.20" fill="url(#f78)"/><rect x="1397.55" y="811.20" width="65.20" height="22.80" fill="url(#f79)"/><rect x="1397.55" y="26.70" width="65.20" height="2.6" fill="#1a1a1a"/><rect x="1397.55" y="31.40" width="65.20" height="2.6" fill="#1a1a1a"/><rect x="1397.55" y="38.00" width="65.20" height="2.6" fill="#1a1a1a"/><rect x="1397.55" y="86.80" width="65.20" height="2.6" fill="#1a1a1a"/><rect x="1396.05" y="15.80" width="66.70" height="2.0" fill="#1a1a1a"/><rect x="1396.25" y="16.80" width="3.2" height="780.50" fill="#7c7c7c"/><rect x="1398.15" y="15.80" width="1.0" height="781.50" fill="#555"/><rect x="1460.85" y="15.80" width="1.9" height="781.50" fill="#1a1a1a"/><rect x="1462.75" y="15.80" width="1.3" height="781.50" fill="#c4c4c4"/><rect x="1396.25" y="812.20" width="3.2" height="21.80" fill="#7c7c7c"/><rect x="1398.15" y="811.20" width="1.0" height="22.80" fill="#555"/><rect x="1460.85" y="811.20" width="1.9" height="22.80" fill="#1a1a1a"/><rect x="1462.75" y="811.20" width="1.3" height="22.80" fill="#c4c4c4"/></g>
<rect x="172" y="16" width="3.6" height="781.3" fill="#6a6a6a"/>
<rect x="172" y="811.2" width="3.6" height="22.8" fill="#6a6a6a"/>
<rect x="172" y="833.3" width="1300.7" height="1.4" fill="#1a1a1a"/>
<rect x="172" y="751.04" width="17.5" height="1.6" fill="#1a1a1a"/>
<rect x="172" y="659.16" width="3.0" height="1.6" fill="#1a1a1a"/>
<rect x="172" y="567.28" width="17.5" height="1.6" fill="#1a1a1a"/>
<rect x="172" y="475.40" width="3.0" height="1.6" fill="#1a1a1a"/>
<rect x="172" y="383.52" width="17.5" height="1.6" fill="#1a1a1a"/>
<rect x="172" y="291.64" width="3.0" height="1.6" fill="#1a1a1a"/>
<rect x="172" y="199.76" width="17.5" height="1.6" fill="#1a1a1a"/>
<rect x="172" y="107.88" width="3.0" height="1.6" fill="#1a1a1a"/>
<rect x="172" y="16.00" width="17.5" height="1.6" fill="#1a1a1a"/>
<line x1="160" y1="803.4" x2="182.2" y2="793.9" stroke="#1a1a1a" stroke-width="1.6"/>
<line x1="160" y1="818" x2="187.2" y2="805.3" stroke="#1a1a1a" stroke-width="1.6"/>
<text class="t" x="154" y="37.3" font-size="57" text-anchor="end">100</text>
<text class="t" x="154" y="221.1" font-size="57" text-anchor="end">96</text>
<text class="t" x="154" y="404.8" font-size="57" text-anchor="end">92</text>
<text class="t" x="154" y="588.6" font-size="57" text-anchor="end">88</text>
<text class="t" x="154" y="772.3" font-size="57" text-anchor="end">84</text>
<text class="t" x="154" y="852.5" font-size="57" text-anchor="end">0</text>
<text class="t" x="268.7" y="877.8" font-size="58" text-anchor="end" transform="rotate(-30 268.7 877.8)">ZY1</text>
<text class="t" x="349.8" y="877.8" font-size="58" text-anchor="end" transform="rotate(-30 349.8 877.8)">ZY2</text>
<text class="t" x="430.8" y="877.8" font-size="58" text-anchor="end" transform="rotate(-30 430.8 877.8)">ZY3</text>
<text class="t" x="511.8" y="877.8" font-size="58" text-anchor="end" transform="rotate(-30 511.8 877.8)">ZY4</text>
<text class="t" x="592.9" y="877.8" font-size="58" text-anchor="end" transform="rotate(-30 592.9 877.8)">ZY5</text>
<text class="t" x="674.0" y="877.8" font-size="58" text-anchor="end" transform="rotate(-30 674.0 877.8)">ZY6</text>
<text class="t" x="755.0" y="877.8" font-size="58" text-anchor="end" transform="rotate(-30 755.0 877.8)">ZY7</text>
<text class="t" x="836.0" y="877.8" font-size="58" text-anchor="end" transform="rotate(-30 836.0 877.8)">ZY8</text>
<text class="t" x="917.1" y="877.8" font-size="58" text-anchor="end" transform="rotate(-30 917.1 877.8)">ZY9</text>
<text class="t" x="998.1" y="877.8" font-size="58" text-anchor="end" transform="rotate(-30 998.1 877.8)">ZY10</text>
<text class="t" x="1079.2" y="877.8" font-size="58" text-anchor="end" transform="rotate(-30 1079.2 877.8)">ZY11</text>
<text class="t" x="1160.2" y="877.8" font-size="58" text-anchor="end" transform="rotate(-30 1160.2 877.8)">ZY12</text>
<text class="t" x="1241.3" y="877.8" font-size="58" text-anchor="end" transform="rotate(-30 1241.3 877.8)">ZY13</text>
<text class="t" x="1322.3" y="877.8" font-size="58" text-anchor="end" transform="rotate(-30 1322.3 877.8)">ZY14</text>
<text class="t" x="1403.4" y="877.8" font-size="58" text-anchor="end" transform="rotate(-30 1403.4 877.8)">ZY15</text>
<text class="t" x="1484.5" y="877.8" font-size="58" text-anchor="end" transform="rotate(-30 1484.5 877.8)">ZY16</text>
<text class="t" x="819.7" y="1020.5" font-size="58.5" text-anchor="middle">样品编号</text>
<text class="t" x="0" y="0" font-size="58" text-anchor="middle" transform="translate(50 429.5) rotate(-90)">相对含量/%</text>
<rect x="1486.5" y="344.1" width="79.0" height="29.4" fill="#fff" stroke="#1a1a1a" stroke-width="1.8"/>
<text class="t" x="1574" y="369.0" font-size="41.5">others</text>
<rect x="1486.5" y="380.0" width="79.0" height="29.4" fill="url(#u80)" stroke="#1a1a1a" stroke-width="1.8"/>
<text class="t" x="1574" y="407.0" font-size="41.5">unclassified</text>
<rect x="1486.5" y="415.6" width="79.0" height="29.4" fill="url(#bact)" stroke="#1a1a1a" stroke-width="1.8"/>
<text class="t" x="1574" y="444.4" font-size="41.5">Bacteroidetes</text>
<rect x="1486.5" y="451.3" width="79.0" height="29.4" fill="url(#p82)" stroke="#1a1a1a" stroke-width="1.8"/>
<text class="t" x="1574" y="482.0" font-size="41.5">Proteobacteria</text>
<rect x="1486.5" y="486.7" width="79.0" height="29.4" fill="url(#f83)" stroke="#1a1a1a" stroke-width="1.8"/>
<text class="t" x="1574" y="519.0" font-size="41.5">Firmicutes</text>
</svg>
</body></html>
